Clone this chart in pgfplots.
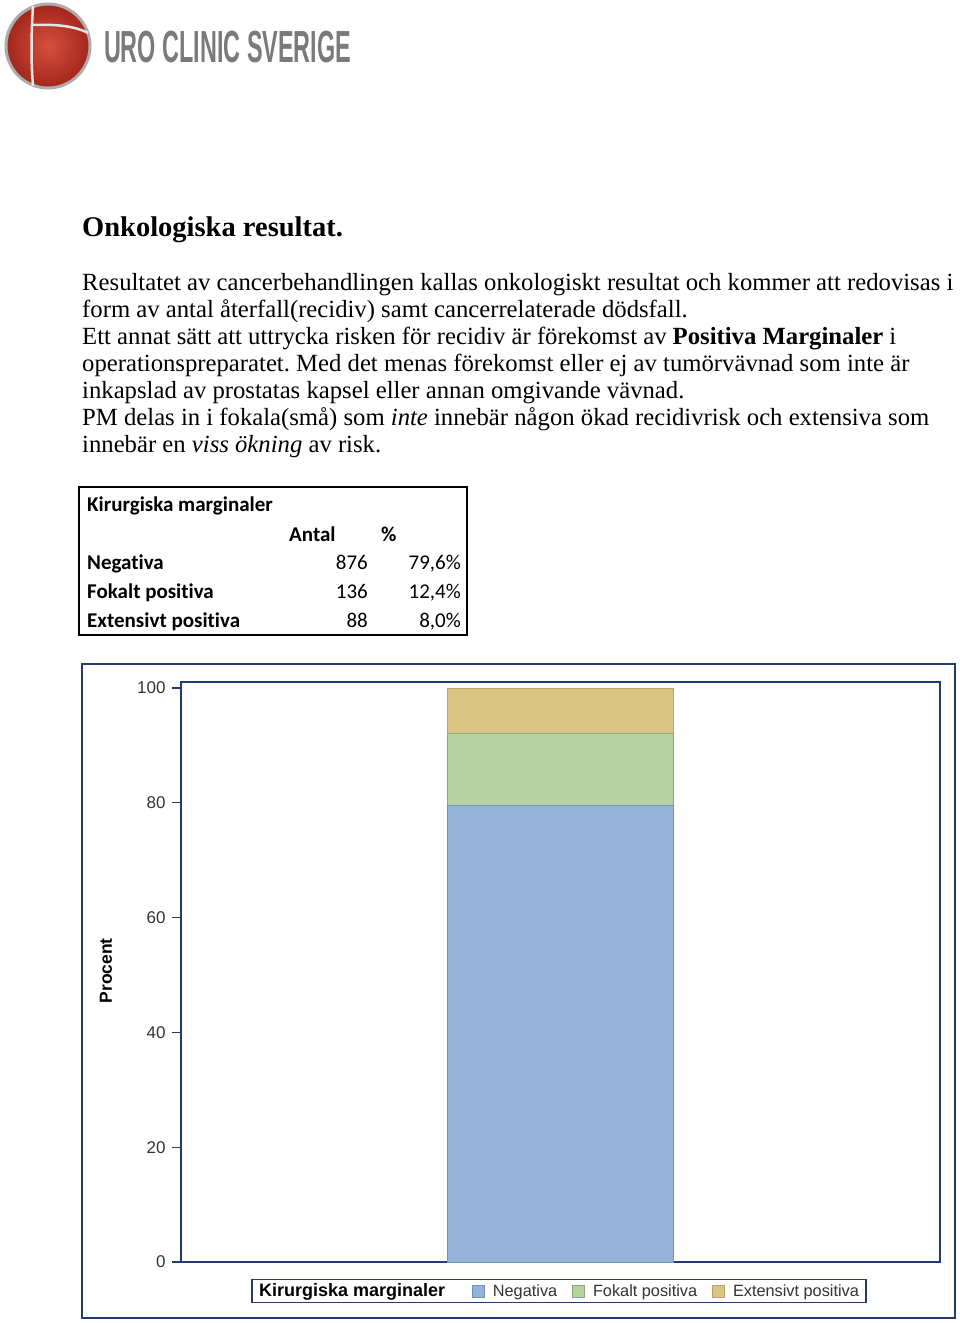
\documentclass[border=0pt]{standalone}
\usepackage{pgfplots}
\pgfplotsset{compat=1.18}
\usepackage{fontspec}
\setmainfont{Liberation Serif}
\newfontfamily\calfont[Ligatures=NoCommon]{Carlito}
\newfontfamily\arfont{Liberation Sans}
\definecolor{navy}{HTML}{203A72}
\definecolor{blueC}{HTML}{95B3D7}
\definecolor{blueE}{HTML}{7392BA}
\definecolor{greenC}{HTML}{B6D2A2}
\definecolor{greenE}{HTML}{8CAA78}
\definecolor{goldC}{HTML}{DBC586}
\definecolor{goldE}{HTML}{BDA35F}
\definecolor{logogray}{HTML}{7A7A7A}
\definecolor{tickgray}{HTML}{333333}
\definecolor{redin}{HTML}{D4503F}
\definecolor{redout}{HTML}{A3261C}
\frenchspacing
\begin{document}
\begin{tikzpicture}[x=1pt,y=1pt]
\useasboundingbox (0,0) rectangle (960,-1323);
% logo
\shade[inner color=redin, outer color=redout] (48,-46) circle (42);
\draw[gray!65, line width=3pt] (48,-46) circle (42);
\draw[gray!20, line width=2.5pt] (33,-6) .. controls (31,-40) and (31,-60) .. (33,-86);
\draw[gray!20, line width=2.5pt] (32,-25) .. controls (55,-24) and (75,-26) .. (88,-33);
\node[anchor=base west, inner sep=0, xscale=0.52, text=logogray] at (104,-62) {\arfont\bfseries\fontsize{45}{45}\selectfont URO CLINIC SVERIGE};
% title and text
\node[anchor=base west, inner sep=0] at (82,-236) {\fontsize{28.5}{28.5}\selectfont\bfseries Onkologiska resultat.};
\begin{scope}[every node/.style={anchor=base west, inner sep=0, font=\fontsize{24.7}{24.7}\selectfont}]
\node at (82,-290) {Resultatet av cancerbehandlingen kallas onkologiskt resultat och kommer att redovisas i};
\node at (82,-317) {form av antal återfall(recidiv) samt cancerrelaterade dödsfall.};
\node at (82,-344) {Ett annat sätt att uttrycka risken för recidiv är förekomst av \textbf{Positiva Marginaler} i};
\node at (82,-371) {operationspreparatet. Med det menas förekomst eller ej av tumörvävnad som inte är};
\node at (82,-398) {inkapslad av prostatas kapsel eller annan omgivande vävnad.};
\node at (82,-425) {PM delas in i fokala(små) som \textit{inte} innebär någon ökad recidivrisk och extensiva som};
\node at (82,-452) {innebär en \textit{viss ökning} av risk.};
\end{scope}
% table
\draw[black, line width=2.2pt] (79,-487) rectangle (467,-635);
\begin{scope}[every node/.style={inner sep=0, font=\calfont\fontsize{21}{21}\selectfont}]
\node[anchor=base west] at (87,-511) {\bfseries Kirurgiska marginaler};
\node[anchor=base west] at (289,-541) {\bfseries Antal};
\node[anchor=base west] at (381,-541) {\bfseries \%};
\node[anchor=base west] at (87,-569) {\bfseries Negativa};
\node[anchor=base west] at (87,-598) {\bfseries Fokalt positiva};
\node[anchor=base west] at (87,-627) {\bfseries Extensivt positiva};
\node[anchor=base east] at (368,-569) {876};
\node[anchor=base east] at (368,-598) {136};
\node[anchor=base east] at (368,-627) {88};
\node[anchor=base east] at (461,-569) {79,6\%};
\node[anchor=base east] at (461,-598) {12,4\%};
\node[anchor=base east] at (461,-627) {8,0\%};
\end{scope}
% chart frame
\draw[navy, line width=1.8pt] (82,-664) rectangle (955,-1318);
\begin{axis}[
  at={(181pt,-1262pt)}, anchor=south west,
  scale only axis, width=759pt, height=580pt,
  xmin=-1, xmax=1, ymin=0, ymax=101.05,
  ybar stacked, bar width=226pt,
  xtick=\empty, ytick={0,20,40,60,80,100},
  ytick pos=left, tick align=outside, major tick length=9pt,
  axis line style={navy, line width=1.4pt},
  tick style={navy, line width=1.2pt},
  /pgf/number format/assume math mode=true,
  yticklabel style={font=\arfont\fontsize{17}{17}\selectfont, text=tickgray, xshift=-3pt},
  ylabel={Procent},
  ylabel style={at={(axis description cs:-0.0988,0.502)}, anchor=center, font=\arfont\bfseries\fontsize{17.5}{17.5}\selectfont, text=black},
  legend columns=-1,
  legend style={at={(axis description cs:0.498,-0.05)}, anchor=center, draw=navy, line width=1.4pt,
    font=\arfont\fontsize{16.3}{16.3}\selectfont, text=tickgray, inner xsep=7pt, inner ysep=1pt,
    /tikz/every even column/.append style={column sep=15pt},
    /tikz/every odd column/.append style={column sep=8pt},
    nodes={inner xsep=0pt, inner ysep=3pt}},
  legend image code/.code={\draw[#1, line width=0.8pt] (0pt,-6pt) rectangle (12pt,6pt);},
]
\addlegendimage{empty legend}
\addlegendentry{\hspace*{-8pt}\textcolor{black}{\fontsize{18}{18}\selectfont\bfseries Kirurgiska marginaler}\hspace*{12pt}}
\addplot[fill=blueC, draw=blueE, line width=1pt] coordinates {(0,79.6)};
\addlegendentry{Negativa}
\addplot[fill=greenC, draw=greenE, line width=1pt] coordinates {(0,12.4)};
\addlegendentry{Fokalt positiva}
\addplot[fill=goldC, draw=goldE, line width=1pt] coordinates {(0,8.0)};
\addlegendentry{Extensivt positiva}
\end{axis}
\end{tikzpicture}
\end{document}
